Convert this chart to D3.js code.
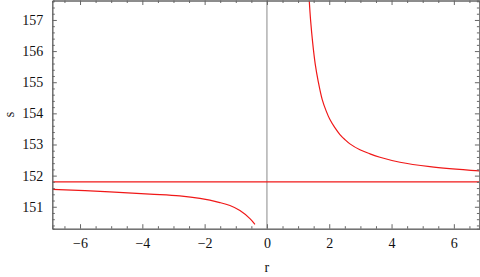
<!DOCTYPE html>
<html>
<head>
<meta charset="utf-8">
<script src="https://cdn.jsdelivr.net/npm/d3@7.9.0/dist/d3.min.js"></script>
<style>
  body { margin: 0; background: #fff; }
  svg { display: block; }
</style>
</head>
<body>
<div id="chart"></div>
<script>
// Data
const leftR = [-6.89, -5.04, -3.756, -2.8, -2.151, -1.509, -1.188, -0.867, -0.546, -0.385];
const leftS = [151.558, 151.48, 151.407, 151.35, 151.27, 151.135, 151.04, 150.88, 150.62, 150.436];
const rightR = [1.358, 1.403, 1.467, 1.55, 1.647, 1.775, 1.9, 2.022, 2.18, 2.343, 2.5, 2.664, 2.985, 3.306, 3.628, 4.27, 5.23, 6.82];
const rightS = [157.63, 156.97, 156.28, 155.58, 155.02, 154.44, 154.08, 153.80, 153.54, 153.32, 153.16, 153.02, 152.83, 152.70, 152.59, 152.43, 152.29, 152.15];
const asymptote = 151.8;
const xMajor = [-6, -4, -2, 0, 2, 4, 6];
const yMajor = [151, 152, 153, 154, 155, 156, 157];

const width = 480;
const height = 277;
const margin = { top: 0.5, right: 0.6, bottom: 48.3, left: 52.3 };
const x0 = margin.left, x1 = width - margin.right;
const y0 = margin.top, y1 = height - margin.bottom;
const font = "'Times New Roman', Times, Tinos, 'Liberation Serif', 'DejaVu Serif', 'Noto Serif', serif";

const svg = d3.select('#chart').append('svg')
  .attr('width', width).attr('height', height);

const xScale = d3.scaleLinear().domain([-6.89, 6.82]).range([x0, x1]);
const yScale = d3.scaleLinear().domain([150.295, 157.625]).range([y1, y0]);

// clip for the curves
svg.append('clipPath').attr('id', 'clip')
  .append('rect').attr('x', x0).attr('y', y0).attr('width', x1 - x0).attr('height', y1 - y0);

// vertical axis at r = 0
svg.append('line')
  .attr('x1', xScale(0)).attr('x2', xScale(0))
  .attr('y1', y0).attr('y2', y1)
  .attr('stroke', '#8a8a8a').attr('stroke-width', 1);

const plot = svg.append('g').attr('clip-path', 'url(#clip)');

const line = d3.line()
  .x((d) => xScale(d[0]))
  .y((d) => yScale(d[1]))
  .curve(d3.curveCatmullRom.alpha(0.5));

const red = '#f01818';
plot.append('path')
  .datum(leftR.map((r, i) => [r, leftS[i]]))
  .attr('d', line).attr('fill', 'none').attr('stroke', red).attr('stroke-width', 1.2);
plot.append('path')
  .datum(rightR.map((r, i) => [r, rightS[i]]))
  .attr('d', line).attr('fill', 'none').attr('stroke', red).attr('stroke-width', 1.2);
plot.append('line')
  .attr('x1', x0).attr('x2', x1)
  .attr('y1', yScale(asymptote)).attr('y2', yScale(asymptote))
  .attr('stroke', red).attr('stroke-width', 1.2);

// frame with ticks on all sides (inward)
const frameColor = '#666';
const minorX = d3.range(-6.5, 6.81, 0.5).filter((v) => !xMajor.includes(v));
const minorY = d3.range(150.4, 157.61, 0.2).map((v) => +v.toFixed(1)).filter((v) => !yMajor.includes(v));

function frameAxis(axisFn, scale, major, minor, transform, labels) {
  const gMinor = svg.append('g').attr('transform', transform)
    .call(axisFn(scale).tickValues(minor).tickSize(-2.5).tickFormat(''));
  const gMajor = svg.append('g').attr('transform', transform)
    .call(axisFn(scale).tickValues(major).tickSize(-4.5).tickSizeOuter(0)
      .tickPadding(9).tickFormat(labels ? (d) => String(d).replace('-', '\u2212') : ''));
  [gMinor, gMajor].forEach((g) => {
    g.attr('font-family', font).attr('font-size', 14);
    g.selectAll('.tick line').attr('stroke', frameColor);
    g.select('.domain').attr('stroke', frameColor);
    g.selectAll('text').attr('fill', '#111');
  });
  return gMajor;
}

frameAxis(d3.axisBottom, xScale, xMajor, minorX, `translate(0,${y1})`, true);
frameAxis(d3.axisTop, xScale, xMajor, minorX, `translate(0,${y0})`, false);
frameAxis(d3.axisLeft, yScale, yMajor, minorY, `translate(${x0},0)`, true);
frameAxis(d3.axisRight, yScale, yMajor, minorY, `translate(${x1},0)`, false);

// axis labels
svg.append('text')
  .attr('x', xScale(0)).attr('y', 272).attr('fill', '#111')
  .attr('text-anchor', 'middle').attr('font-family', font).attr('font-size', 14).text('r');
svg.append('text')
  .attr('transform', `translate(14,${(y0 + y1) / 2}) rotate(-90)`).attr('fill', '#111')
  .attr('text-anchor', 'middle').attr('font-family', font).attr('font-size', 14).text('s');
</script>
</body>
</html>
